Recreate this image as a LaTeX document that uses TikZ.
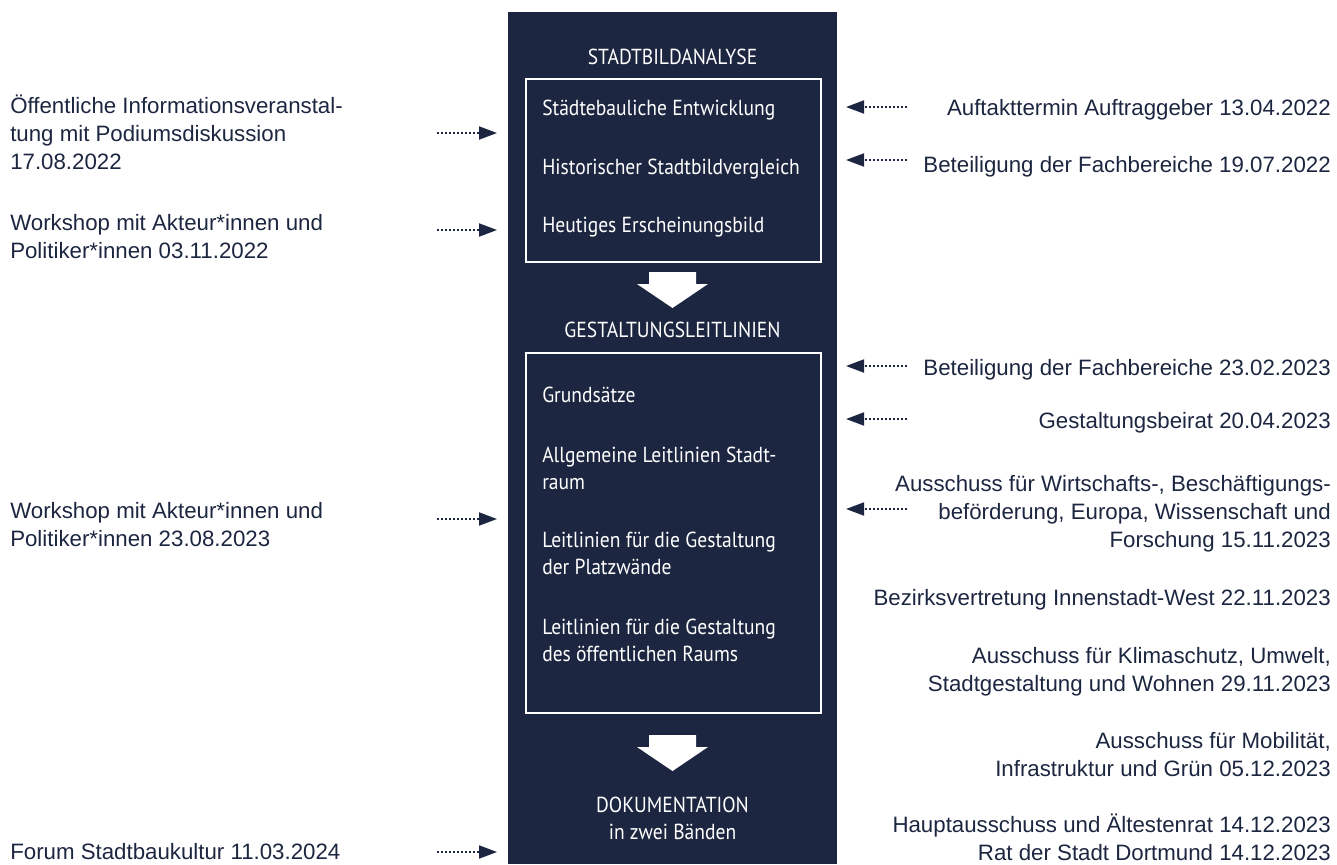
\documentclass[tikz,border=0pt]{standalone}
\usepackage{fontspec}
\setmainfont{Liberation Sans}
\newfontfamily\boxfont[FakeStretch=0.9]{PT Sans}
\usetikzlibrary{arrows.meta}
\definecolor{navy}{RGB}{28,38,64}
\newcommand\sidestrut{\rule{0pt}{16pt}}
\newcommand\boxstrut{\rule{0pt}{15pt}}
\begin{document}
\begin{tikzpicture}[x=0.75pt,y=-0.75pt,
  sidetxt/.style={font=\fontsize{16.7}{21}\selectfont, text=navy, inner sep=0pt},
  lefttxt/.style={sidetxt, anchor=north west, align=left},
  righttxt/.style={sidetxt, anchor=north east, align=right},
  boxtxt/.style={font=\boxfont\fontsize{16.3}{20.25}\selectfont, text=white, inner sep=0pt, anchor=north west, align=left},
  headtxt/.style={boxtxt, anchor=north, align=center},
  frame/.style={draw=white, line width=1.5pt, inner sep=0pt, anchor=north west, minimum width=221.25pt},
  dotarrow/.style={navy, line width=1.4pt, dash pattern=on 1.4pt off 1.6pt, -{Triangle[length=13.5pt,width=9.75pt]}},
  blockarrow/.style={fill=white, draw=none}
]
\useasboundingbox (0,0) rectangle (1337,864);

% central column
\node (column) [fill=navy, inner sep=0pt, anchor=north west, minimum width=246.75pt, minimum height=639pt] at (508,12) {};

% frames
\node (box1) [frame, minimum height=137.25pt] at (525,78) {};
\node (box2) [frame, minimum height=270pt] at (525,352) {};

% headers
\node (h1) [headtxt] at (672.5,44.5) {\boxstrut STADTBILDANALYSE};
\node (h2) [headtxt] at (672.5,317.5) {\boxstrut GESTALTUNGSLEITLINIEN};
\node (h3) [headtxt] at (672.5,792.5) {\boxstrut DOKUMENTATION\\in zwei Bänden};

% items box 1
\node (b11) [boxtxt] at (542,95.5) {\boxstrut Städtebauliche Entwicklung};
\node (b12) [boxtxt] at (542,154.5) {\boxstrut Historischer Stadtbildvergleich};
\node (b13) [boxtxt] at (542,212.5) {\boxstrut Heutiges Erscheinungsbild};

% items box 2
\node (b21) [boxtxt] at (542,382.5) {\boxstrut Grundsätze};
\node (b22) [boxtxt] at (542,442.5) {\boxstrut Allgemeine Leitlinien Stadt-\\raum};
\node (b23) [boxtxt] at (542,527.5) {\boxstrut Leitlinien für die Gestaltung\\der Platzwände};
\node (b24) [boxtxt] at (542,614.5) {\boxstrut Leitlinien für die Gestaltung\\des öffentlichen Raums};

% block arrows
\fill[blockarrow] (649,272) -- (696,272) -- (696,284) -- (708,284) -- (672.5,308) -- (637,284) -- (649,284) -- cycle;
\fill[blockarrow] (649,735) -- (696,735) -- (696,747) -- (708,747) -- (672.5,771) -- (637,747) -- (649,747) -- cycle;

% left texts
\node (l1) [lefttxt] at (10,91.7) {\sidestrut Öffentliche Informationsveranstal-\\tung mit Podiumsdiskussion\\17.08.2022};
\node (l2) [lefttxt] at (10,208.7) {\sidestrut Workshop mit Akteur*innen und\\Politiker*innen 03.11.2022};
\node (l3) [lefttxt] at (10,496.7) {\sidestrut Workshop mit Akteur*innen und\\Politiker*innen 23.08.2023};
\node (l4) [lefttxt] at (10,838.2) {\sidestrut Forum Stadtbaukultur 11.03.2024};

% right texts
\node (r1) [righttxt] at (1331,93.7) {\sidestrut Auftakttermin Auftraggeber 13.04.2022};
\node (r2) [righttxt] at (1331,150.7) {\sidestrut Beteiligung der Fachbereiche 19.07.2022};
\node (r3) [righttxt] at (1331,353.7) {\sidestrut Beteiligung der Fachbereiche 23.02.2023};
\node (r4) [righttxt] at (1331,406.7) {\sidestrut Gestaltungsbeirat 20.04.2023};
\node (r5) [righttxt] at (1331,469.7) {\sidestrut Ausschuss für Wirtschafts-, Beschäftigungs-\\beförderung, Europa, Wissenschaft und\\Forschung 15.11.2023};
\node (r6) [righttxt] at (1331,583.7) {\sidestrut Bezirksvertretung Innenstadt-West 22.11.2023};
\node (r7) [righttxt] at (1331,641.7) {\sidestrut Ausschuss für Klimaschutz, Umwelt,\\Stadtgestaltung und Wohnen 29.11.2023};
\node (r8) [righttxt] at (1331,726.7) {\sidestrut Ausschuss für Mobilität,\\Infrastruktur und Grün 05.12.2023};
\node (r9) [righttxt] at (1331,810.7) {\sidestrut Hauptausschuss und Ältestenrat 14.12.2023\\Rat der Stadt Dortmund 14.12.2023};

% arrow end points
\coordinate (la1s) at (437,133); \coordinate (la1e) at (497,133);
\coordinate (la2s) at (437,230); \coordinate (la2e) at (497,230);
\coordinate (la3s) at (437,519); \coordinate (la3e) at (497,519);
\coordinate (la4s) at (437,852); \coordinate (la4e) at (497,852);
\coordinate (ra1s) at (907,107); \coordinate (ra1e) at (846,107);
\coordinate (ra2s) at (907,160); \coordinate (ra2e) at (846,160);
\coordinate (ra3s) at (907,366); \coordinate (ra3e) at (846,366);
\coordinate (ra4s) at (907,419); \coordinate (ra4e) at (846,419);
\coordinate (ra5s) at (907,509); \coordinate (ra5e) at (846,509);

\draw[dotarrow] (la1s) -- (la1e);
\draw[dotarrow] (la2s) -- (la2e);
\draw[dotarrow] (la3s) -- (la3e);
\draw[dotarrow] (la4s) -- (la4e);
\draw[dotarrow] (ra1s) -- (ra1e);
\draw[dotarrow] (ra2s) -- (ra2e);
\draw[dotarrow] (ra3s) -- (ra3e);
\draw[dotarrow] (ra4s) -- (ra4e);
\draw[dotarrow] (ra5s) -- (ra5e);
\end{tikzpicture}
\end{document}
